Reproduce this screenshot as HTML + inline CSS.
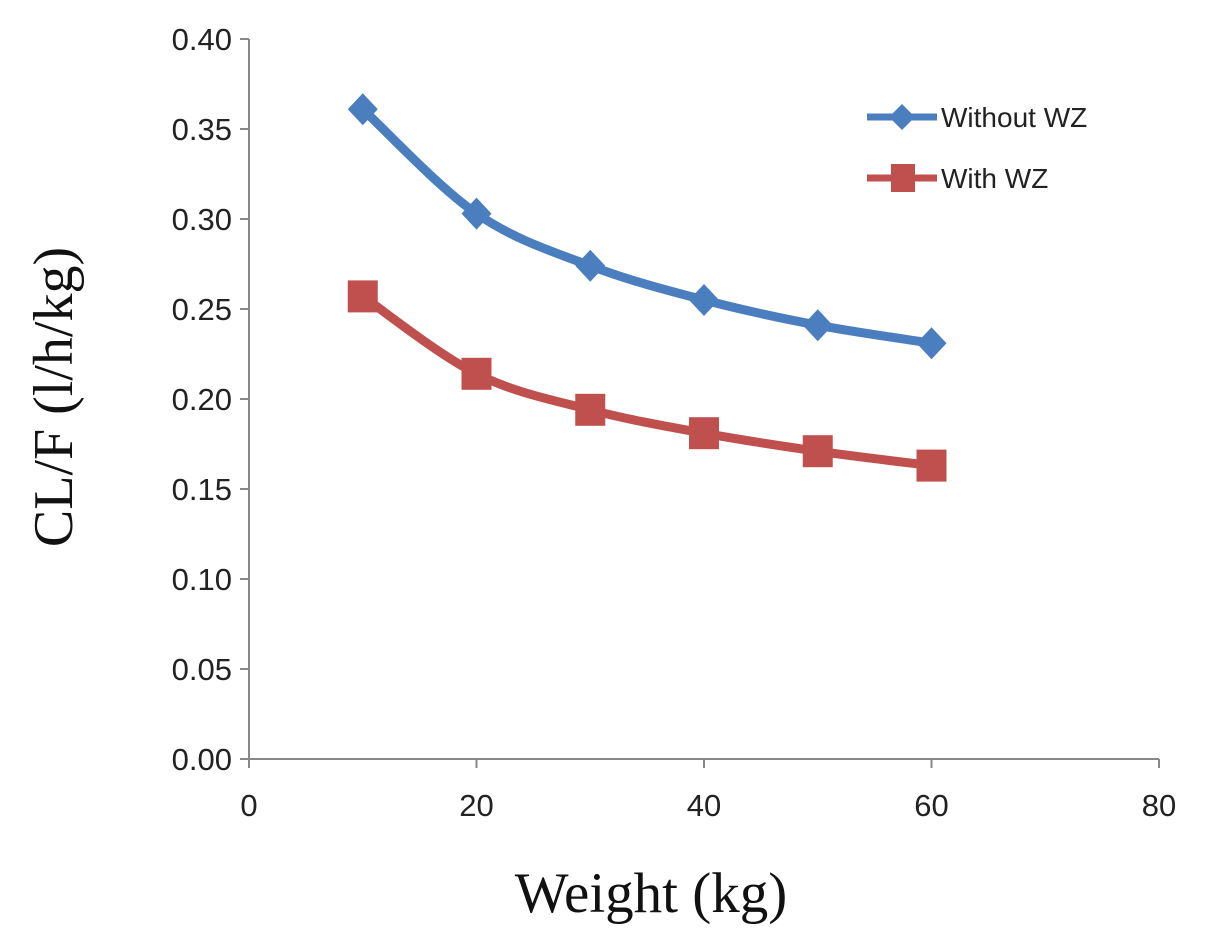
<!DOCTYPE html>
<html><head><meta charset="utf-8"><style>
html,body{margin:0;padding:0;background:#fff;width:1205px;height:947px;overflow:hidden}
svg text{font-family:"Liberation Sans",sans-serif}
</style></head><body>
<svg id="chart" width="1205" height="947" viewBox="0 0 1205 947" xmlns="http://www.w3.org/2000/svg">
<g id="axes"></g>
<g id="series"></g>
<text transform="translate(72,397) rotate(-90)" text-anchor="middle" font-size="56" style="font-family:'Liberation Serif',serif" fill="#111">CL/F (l/h/kg)</text>
<text x="651" y="912" text-anchor="middle" font-size="57" style="font-family:'Liberation Serif',serif" fill="#111">Weight (kg)</text>
<g>
<g>
<line x1="867" y1="117" x2="937" y2="117" stroke="#4a7ebf" stroke-width="7"/>
<polygon points="902,104 915,117 902,130 889,117" fill="#4a7ebf"/>
<text x="941" y="127" font-size="28" fill="#222">Without WZ</text></g>
<g>
<line x1="867" y1="178" x2="937" y2="178" stroke="#c0504d" stroke-width="7"/>
<rect x="891" y="164" width="24" height="28" fill="#c0504d"/>
<text x="941" y="188" font-size="28" fill="#222">With WZ</text></g>
</g>
</svg>
<script>
const weights=[10,20,30,40,50,60];
const withoutWZ=[0.361,0.303,0.274,0.255,0.241,0.231];
const withWZ=[0.257,0.214,0.194,0.181,0.171,0.163];
const yTicks=[0,0.05,0.10,0.15,0.20,0.25,0.30,0.35,0.40];
const xTicks=[0,20,40,60,80];
const NS="http://www.w3.org/2000/svg";
const X0=249,X1=1159,Y0=759,Y1=39;
function sx(v){return X0+(v-0)/(80-0)*(X1-X0);}
function sy(v){return Y0-(v-0)/(0.40-0)*(Y0-Y1);}
function mk(t,a,p){const e=document.createElementNS(NS,t);for(const k in a)e.setAttribute(k,a[k]);p.appendChild(e);return e;}
const ax=document.getElementById('axes');
let l=mk('line',{x1:X0,y1:Y1,x2:X0,y2:Y0+9,stroke:'#888','stroke-width':2},ax);


l=mk('line',{x1:X0-9,y1:Y0,x2:X1,y2:Y0,stroke:'#888','stroke-width':2},ax);


yTicks.forEach(v=>{
 const t=mk('line',{x1:X0-9,y1:sy(v),x2:X0,y2:sy(v),stroke:'#888','stroke-width':2},ax);
 
 
 const tx=mk('text',{x:X0-17,y:sy(v)+11,'text-anchor':'end','font-size':31,fill:'#222'},ax);
 tx.textContent=v.toFixed(2);
 
 
});
xTicks.forEach(v=>{
 const t=mk('line',{x1:sx(v),y1:Y0,x2:sx(v),y2:Y0+9,stroke:'#888','stroke-width':2},ax);
 
 
 const tx=mk('text',{x:sx(v),y:Y0+57,'text-anchor':'middle','font-size':31,fill:'#222'},ax);
 tx.textContent=v;
 
 
});
function smooth(pts){
 let d='M'+pts[0][0]+','+pts[0][1];
 for(let i=0;i<pts.length-1;i++){
  const p0=pts[Math.max(0,i-1)],p1=pts[i],p2=pts[i+1],p3=pts[Math.min(pts.length-1,i+2)];
  const c1=[p1[0]+(p2[0]-p0[0])/6,p1[1]+(p2[1]-p0[1])/6];
  const c2=[p2[0]-(p3[0]-p1[0])/6,p2[1]-(p3[1]-p1[1])/6];
  d+=' C'+c1+' '+c2+' '+p2;
 }
 return d;
}
const sg=document.getElementById('series');
function draw(vals,color,shape,name){
 const g=mk('g',{},sg);
 
 
 const pts=weights.map((w,i)=>[sx(w),sy(vals[i])]);
 const p=mk('path',{d:smooth(pts),fill:'none',stroke:color,'stroke-width':9},g);
 
 
 pts.forEach(([x,y])=>{
  let m;
  if(shape==='diamond') m=mk('polygon',{points:`${x},${y-16} ${x+15},${y} ${x},${y+16} ${x-15},${y}`,fill:color},g);
  else m=mk('rect',{x:x-15,y:y-16,width:30,height:32,fill:color},g);
  
  
 });
}
draw(withoutWZ,'#4a7ebf','diamond','series-without-wz');
draw(withWZ,'#c0504d','square','series-with-wz');
</script>
</body></html>
